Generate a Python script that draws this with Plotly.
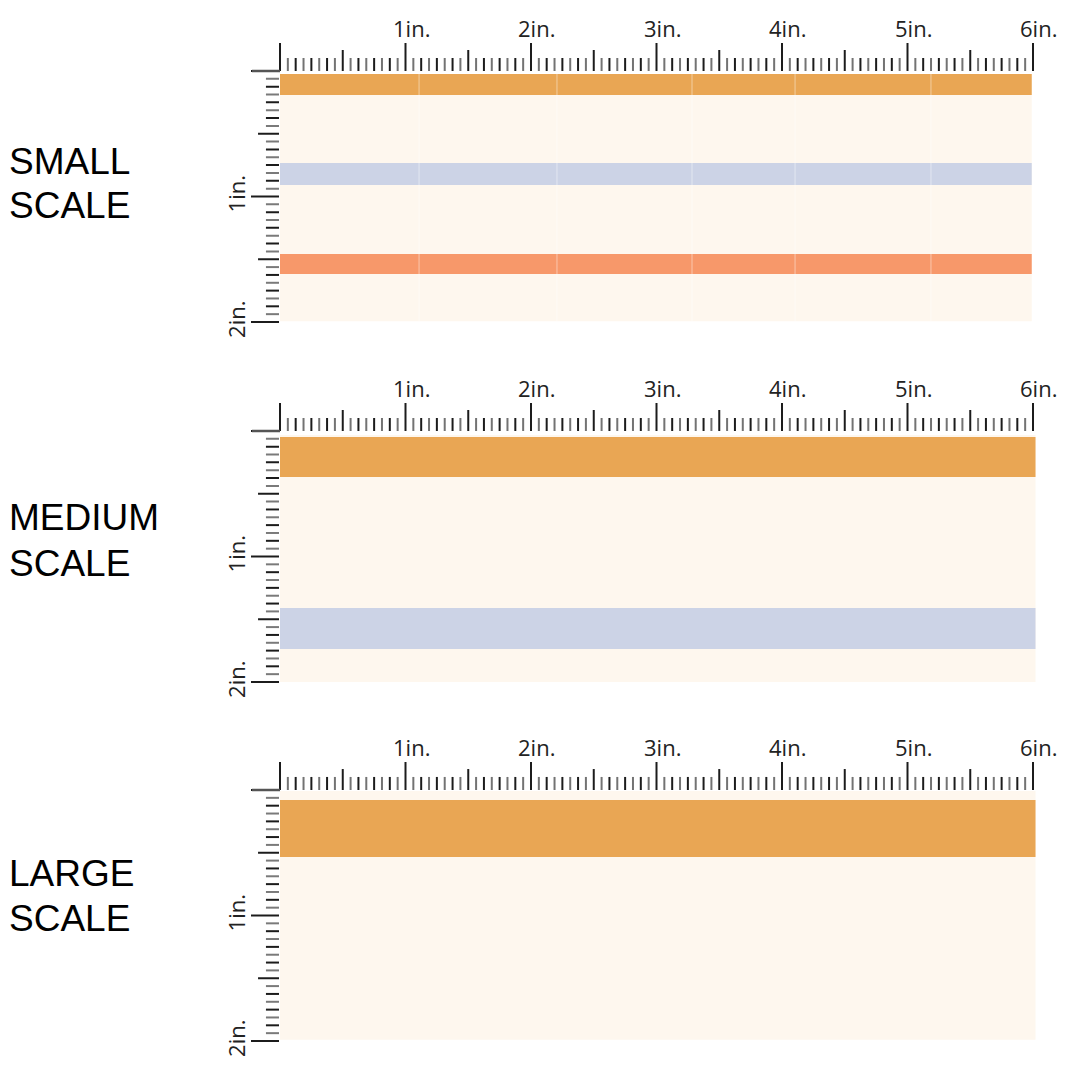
import numpy as np
import plotly.graph_objects as go

# ---------------- data (inches) ----------------
panel_names = [["SMALL", "SCALE"], ["MEDIUM", "SCALE"], ["LARGE", "SCALE"]]
ruler_width_in = 6
ruler_height_in = 2
divisions_per_in = 16
top_tick_labels = ["1in.", "2in.", "3in.", "4in.", "5in.", "6in."]
left_tick_labels = ["1in.", "2in."]

fabric_top = [0.024, 0.032, 0.008]
fabric_bottom = [1.995, 2.0, 1.99]
fabric_right = [5.99, 6.02, 6.02]

small_stripe_start = [0.024, 0.733, 1.458]
small_stripe_end = [0.191, 0.908, 1.618]
small_stripe_color = ["#E9A654", "#CCD3E6", "#F7986A"]

medium_stripe_start = [0.048, 1.410]
medium_stripe_end = [0.367, 1.737]
medium_stripe_color = ["#E9A654", "#CCD3E6"]

large_stripe_start = [0.080]
large_stripe_end = [0.534]
large_stripe_color = ["#E9A654"]

small_seams = [1.108, 2.207, 3.283, 4.104, 5.187]

stripes = [
    (small_stripe_start, small_stripe_end, small_stripe_color),
    (medium_stripe_start, medium_stripe_end, medium_stripe_color),
    (large_stripe_start, large_stripe_end, large_stripe_color),
]
seams = [small_seams, [], []]

# ---------------- layout constants ----------------
OFF = 8                 # page body margin of the browser
W = H = 1080 - OFF
PX_PER_IN = 125.5
X0_PX = 280 - OFF
origin_px = [71 - OFF, 431 - OFF, 790 - OFF]
X_RANGE = [-0.45, 6.3]
Y_RANGE = [2.2, -0.42]
CREAM = "#FEF7EE"
DARK = "#1c1c1c"
GRAY = "#737373"
label_centers_px = [(161.5 - OFF, 206 - OFF), (517 - OFF, 563 - OFF), (873 - OFF, 918 - OFF)]

fig = go.Figure()

x_dom = [(X0_PX + X_RANGE[0] * PX_PER_IN) / W, (X0_PX + X_RANGE[1] * PX_PER_IN) / W]


def tick_len(i):
    if i % 16 == 0:
        return 0.223
    if i % 8 == 0:
        return 0.167
    return 0.104


shapes = []
annotations = []
for p in range(3):
    ax = "" if p == 0 else str(p + 1)
    xref = "x" + ax
    yref = "y" + ax
    o = origin_px[p]
    top_px = o + Y_RANGE[1] * PX_PER_IN
    bot_px = o + Y_RANGE[0] * PX_PER_IN
    y_dom = [max(0, 1 - bot_px / H), min(1, 1 - top_px / H)]
    yr = [((1 - y_dom[0]) * H - o) / PX_PER_IN, ((1 - y_dom[1]) * H - o) / PX_PER_IN]
    fig.update_layout(**{
        "xaxis" + ax: dict(domain=x_dom, range=X_RANGE, visible=False, anchor=yref,
                           showgrid=False, zeroline=False, fixedrange=True),
        "yaxis" + ax: dict(domain=y_dom, range=yr, visible=False, anchor=xref,
                           showgrid=False, zeroline=False, fixedrange=True),
    })

    # fabric background
    shapes.append(dict(type="rect", xref=xref, yref=yref, x0=0, x1=fabric_right[p],
                       y0=fabric_top[p], y1=fabric_bottom[p], fillcolor=CREAM,
                       line=dict(width=0), layer="below"))
    s0, s1, sc = stripes[p]
    for a, b, c in zip(s0, s1, sc):
        shapes.append(dict(type="rect", xref=xref, yref=yref, x0=0, x1=fabric_right[p],
                           y0=a, y1=b, fillcolor=c, line=dict(width=0), layer="below"))
    for sx in seams[p]:
        shapes.append(dict(type="line", xref=xref, yref=yref, x0=sx, x1=sx,
                           y0=fabric_top[p], y1=fabric_bottom[p],
                           line=dict(color="rgba(255,255,255,0.45)", width=1)))

    # top ruler ticks
    n_top = ruler_width_in * divisions_per_in
    for color, parity in ((GRAY, 1), (DARK, 0)):
        xs, ys = [], []
        for i in range(n_top + 1):
            if i % 2 != parity:
                continue
            v = i / divisions_per_in
            xs += [v, v, None]
            ys += [0, -tick_len(i), None]
        fig.add_trace(go.Scatter(x=xs, y=ys, mode="lines", xaxis=xref, yaxis=yref,
                                 line=dict(color=color, width=2), hoverinfo="skip",
                                 showlegend=False))
    # left ruler ticks
    n_left = ruler_height_in * divisions_per_in
    for color, parity in (("#7a7a7a", 1), (DARK, 0)):
        xs, ys = [], []
        for i in range(n_left + 1):
            if i % 2 != parity:
                continue
            v = i / divisions_per_in
            ln = tick_len(i)
            xs += [-0.008, -0.008 - ln, None]
            ys += [v, v, None]
        fig.add_trace(go.Scatter(x=xs, y=ys, mode="lines", xaxis=xref, yaxis=yref,
                                 line=dict(color=color, width=2),
                                 hoverinfo="skip", showlegend=False))
    # corner line (0 tick of left ruler)
    fig.add_trace(go.Scatter(x=[0, -0.223], y=[0, 0], mode="lines", xaxis=xref, yaxis=yref,
                             line=dict(color="#555555", width=2.5), hoverinfo="skip",
                             showlegend=False))

    # top labels
    for k, lab in enumerate(top_tick_labels):
        annotations.append(dict(x=k + 1 + 0.045, y=-0.341, xref=xref, yref=yref, text=lab,
                                showarrow=False, xanchor="center", yanchor="middle",
                                font=dict(family="Open Sans", size=22, color="#222222")))
    # left labels
    for k, lab in enumerate(left_tick_labels):
        annotations.append(dict(x=-0.347, y=k + 1 - 0.02, xref=xref, yref=yref, text=lab,
                                textangle=-90, showarrow=False, xanchor="center",
                                yanchor="middle",
                                font=dict(family="Open Sans", size=22, color="#222222")))

    # panel names
    for line_txt, cy in zip(panel_names[p], label_centers_px[p]):
        annotations.append(dict(x=-1 / W, y=1 - cy / H, xref="paper", yref="paper",
                                text=line_txt, showarrow=False, xanchor="left",
                                yanchor="middle",
                                font=dict(family="Liberation Sans", size=37, color="#000000")))

fig.update_layout(width=W, height=H, margin=dict(l=0, r=0, t=0, b=0),
                  paper_bgcolor="white", plot_bgcolor="rgba(0,0,0,0)",
                  shapes=shapes, annotations=annotations, showlegend=False)

fig.write_html("out.html")
